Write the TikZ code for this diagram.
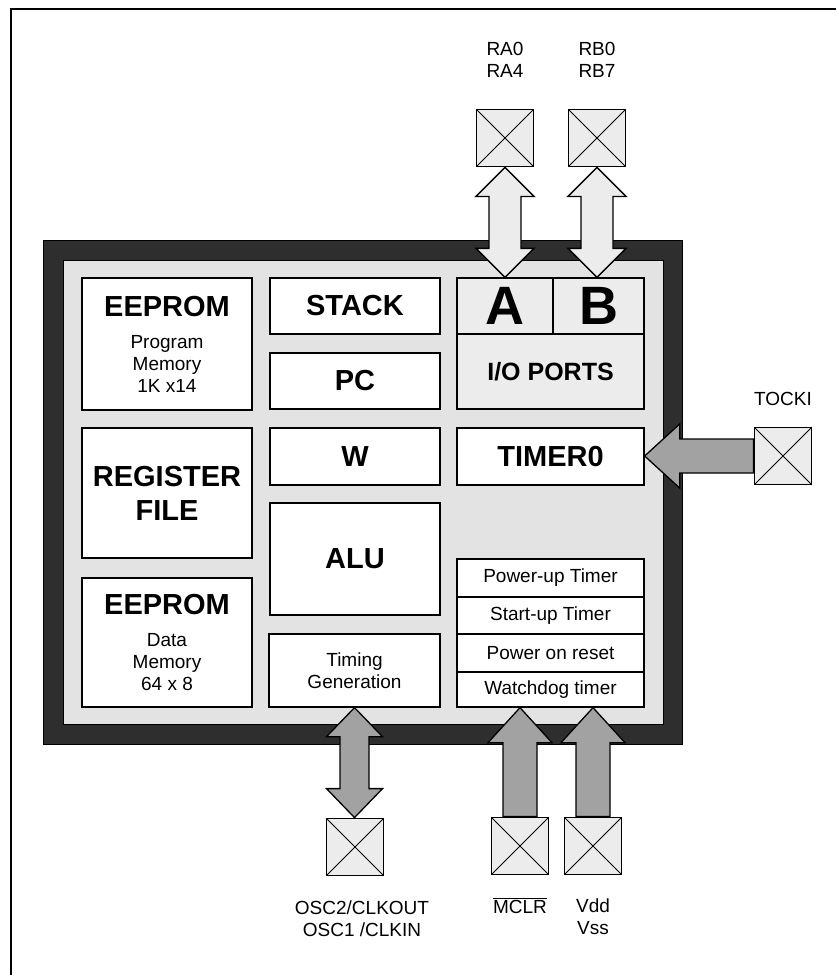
\documentclass[tikz,border=0pt]{standalone}
\usepackage{fontspec}
\setmainfont{Liberation Sans}
\usetikzlibrary{calc}
\definecolor{chipdark}{HTML}{2E2E2E}
\definecolor{chiplight}{HTML}{E3E3E3}
\definecolor{padgray}{HTML}{ECECEC}
\definecolor{arrowgray}{HTML}{A2A2A2}
\newcommand\bigf{\fontsize{29}{34}\selectfont\bfseries}
\newcommand\smallf{\fontsize{19}{22}\selectfont}
\tikzset{
  block/.style={draw, fill=white, line width=1.3pt, inner sep=0pt, align=center},
  pad/.style={draw, fill=padgray, line width=1.8pt, minimum size=57pt, inner sep=0pt,
    path picture={\draw[line width=1pt] (path picture bounding box.north west) -- (path picture bounding box.south east)
      (path picture bounding box.north east) -- (path picture bounding box.south west);}},
  pinlabel/.style={font=\smallf, align=center, inner sep=0pt},
  fat/.style={draw, line width=1.3pt, line join=miter}
}
% vertical double arrow: top tip, bottom tip, shaft half width, head half width, fill
\newcommand\vdouble[5]{%
  \filldraw[fat, fill=#5] let \p1=(#1), \p2=(#2) in
    (\p1) -- (\x1+#4,\y1-29pt) -- (\x1+#3,\y1-29pt) -- (\x1+#3,\y2+29pt) -- (\x1+#4,\y2+29pt)
    -- (\x1,\y2) -- (\x1-#4,\y2+29pt) -- (\x1-#3,\y2+29pt) -- (\x1-#3,\y1-29pt) -- (\x1-#4,\y1-29pt) -- cycle;}
% upward arrow: foot, tip
\newcommand\upfat[2]{%
  \filldraw[fat, fill=arrowgray] let \p1=(#1), \p2=(#2) in
    (\x1-17pt,\y1) -- (\x1-17pt,\y2-35pt) -- (\x1-32pt,\y2-35pt) -- (\x1,\y2)
    -- (\x1+32pt,\y2-35pt) -- (\x1+17pt,\y2-35pt) -- (\x1+17pt,\y1) -- cycle;}
\begin{document}
\begin{tikzpicture}[x=1pt, y=-1pt]
\useasboundingbox (0,0) rectangle (836,975);
\draw[line width=2.5pt] (11,975) -- (11,9) -- (836,9);

\node[draw, fill=chipdark, line width=1pt, minimum width=639pt, minimum height=504pt] (chip) at (362.5,492) {};
\node[draw, fill=chiplight, line width=1pt, minimum width=600pt, minimum height=464pt] (core) at (363,492) {};

\node[block, minimum width=170pt, minimum height=132pt, font=\smallf] (progmem) at (167,344) {{\bigf EEPROM}\\[10pt]Program\\Memory\\1K x14};
\node[block, minimum width=170pt, minimum height=130pt, font=\bigf] (regfile) at (167,493) {REGISTER\\FILE};
\node[block, minimum width=170pt, minimum height=129pt, font=\smallf] (datamem) at (167,642.5) {{\bigf EEPROM}\\[10pt]Data\\Memory\\64 x 8};

\node[block, minimum width=170pt, minimum height=56pt, font=\bigf] (stack) at (355,306) {STACK};
\node[block, minimum width=170pt, minimum height=56pt, font=\bigf] (pc) at (355,381) {PC};
\node[block, minimum width=170pt, minimum height=57pt, font=\bigf] (wreg) at (355,456.5) {W};
\node[block, minimum width=170pt, minimum height=112pt, font=\bigf] (alu) at (355,559) {ALU};
\node[block, minimum width=171pt, minimum height=73pt, font=\smallf] (timing) at (354.5,670.5) {Timing\\Generation};

\node[block, fill=padgray, minimum width=96pt, minimum height=56pt, font=\fontsize{54}{60}\selectfont\bfseries] (porta) at (505,306) {A};
\node[block, fill=padgray, minimum width=91pt, minimum height=56pt, font=\fontsize{54}{60}\selectfont\bfseries] (portb) at (598.5,306) {B};
\node[block, fill=padgray, minimum width=187pt, minimum height=75pt, font=\fontsize{25}{30}\selectfont\bfseries] (ioports) at (550.5,371.5) {I/O PORTS};
\node[block, minimum width=187pt, minimum height=57pt, font=\bigf] (timer0) at (550.5,456.5) {TIMER0};

\node[block, minimum width=187pt, minimum height=38pt, font=\smallf] (pwrt) at (550.5,578) {Power-up Timer};
\node[block, minimum width=187pt, minimum height=37pt, font=\smallf] (ost) at (550.5,615.5) {Start-up Timer};
\node[block, minimum width=187pt, minimum height=38pt, font=\smallf] (por) at (550.5,653) {Power on reset};
\node[block, minimum width=187pt, minimum height=35pt, font=\smallf] (wdt) at (550.5,689.5) {Watchdog timer};

\node[pad] (pina) at (505,138) {};
\node[pad] (pinb) at (597,138) {};
\node[pad] (pint) at (783,456) {};
\node[pad] (pino) at (355,847) {};
\node[pad] (pinm) at (520,846) {};
\node[pad] (pinv) at (593,846) {};

\node[pinlabel, anchor=north] (laba) at (505,42) {RA0\\RA4};
\node[pinlabel, anchor=north] (labb) at (597,42) {RB0\\RB7};
\node[pinlabel, anchor=north] (labt) at (783,392) {TOCKI};
\node[pinlabel, anchor=north] (labo) at (362,901) {OSC2/CLKOUT\\OSC1 /CLKIN};
\node[pinlabel, anchor=base] (labm) at (520,913) {$\overline{\mbox{MCLR}}$};
\node[pinlabel, anchor=north] (labv) at (593,899) {Vdd\\Vss};

\vdouble{pina.south}{pina.south |- porta.north}{16pt}{29pt}{padgray}
\vdouble{pinb.south}{pinb.south |- portb.north}{16pt}{29pt}{padgray}
\vdouble{timing.south}{timing.south |- pino.north}{14.5pt}{28pt}{arrowgray}
\upfat{pinm.north}{pinm.north |- wdt.south}
\upfat{pinv.north}{pinv.north |- wdt.south}
\filldraw[fat, fill=arrowgray] let \p1=(pint.west), \p2=(timer0.east) in
  (\x1,\y1+17pt) -- (\x2+35pt,\y1+17pt) -- (\x2+35pt,\y1+32pt) -- (\x2,\y1)
  -- (\x2+35pt,\y1-32pt) -- (\x2+35pt,\y1-17pt) -- (\x1,\y1-17pt) -- cycle;
\end{tikzpicture}
\end{document}
